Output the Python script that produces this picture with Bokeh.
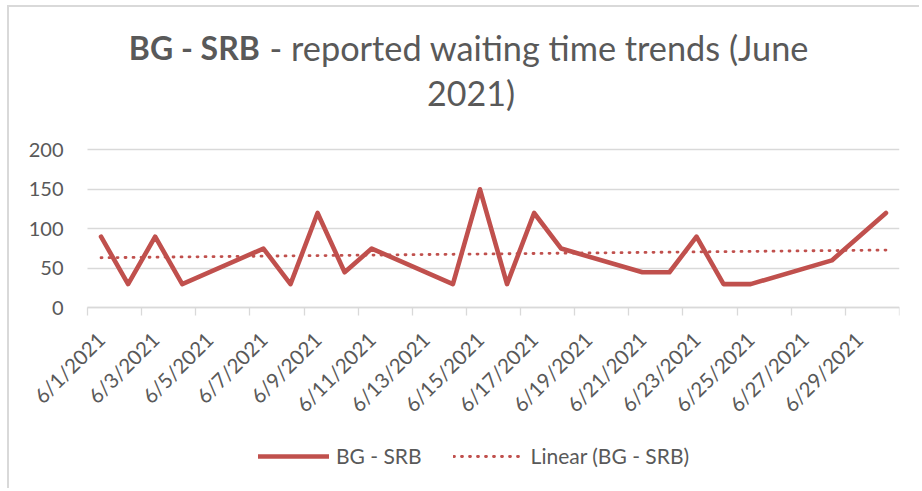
import numpy as np
from math import pi
from bokeh.plotting import figure
from bokeh.models import FixedTicker, Label, Legend, LegendItem, ColumnDataSource
from bokeh.embed import file_html
from bokeh.resources import INLINE

# data: day of June 2021 and reported waiting time
days = [1, 2, 3, 4, 7, 8, 9, 10, 11, 14, 15, 16, 17, 18, 21, 22, 23, 24, 25, 28, 29, 30]
values = [90, 30, 90, 30, 75, 30, 120, 45, 75, 30, 150, 30, 120, 75, 45, 45, 90, 30, 30, 60, 90, 120]
label_days = [1, 3, 5, 7, 9, 11, 13, 15, 17, 19, 21, 23, 25, 27, 29]
tick_labels = ["6/1/2021", "6/3/2021", "6/5/2021", "6/7/2021", "6/9/2021", "6/11/2021",
               "6/13/2021", "6/15/2021", "6/17/2021", "6/19/2021", "6/21/2021",
               "6/23/2021", "6/25/2021", "6/27/2021", "6/29/2021"]
y_ticks = [0, 50, 100, 150, 200]

RED = "#C0504D"
GREY = "#595959"
LIGHT = "#d9d9d9"
FONT = "Lato"

# layout: canvas spans page x 9..921, y 7..490; plot area page x 87..899, value 0 at y 307.3, 200 at 149.3
PX_PER_UNIT = 0.79
PX_PER_DAY = (899 - 87) / 30.0
y_top = (307.3 - 7) / PX_PER_UNIT
y_bot = (307.3 - 490) / PX_PER_UNIT
x_start = 0.5 - (87 - 9) / PX_PER_DAY

p = figure(width=912, height=483, x_range=(x_start, 30.5), y_range=(y_bot, y_top),
           output_backend="svg", toolbar_location=None,
           min_border_left=0, min_border_right=22, min_border_top=0, min_border_bottom=0)
p.outline_line_color = None
p.background_fill_color = "white"
p.border_fill_color = "white"
p.styles = {"margin-left": "7px", "margin-top": "5px",
            "border-left": "2px solid #d9d9d9", "border-top": "2px solid #d9d9d9"}

src = ColumnDataSource(dict(x=days, y=values))
main = p.line("x", "y", source=src, line_color=RED, line_width=4.6, line_join="round", line_cap="round")

slope, intercept = np.polyfit(days, values, 1)
tx = [days[0], days[-1]]
ty = [intercept + slope * d for d in tx]
trend = p.line(tx, ty, line_color=RED, line_width=2.8, line_dash="1 7", line_cap="round")

# y axis drawn at the left edge of the plot area
p.yaxis.fixed_location = 0.5
p.yaxis.ticker = FixedTicker(ticks=y_ticks)
p.yaxis.axis_line_color = None
p.yaxis.major_tick_line_color = None
p.yaxis.minor_tick_line_color = None
p.yaxis.major_tick_out = 0
p.yaxis.major_tick_in = 0
p.yaxis.major_label_standoff = 24
p.yaxis.major_label_text_font = FONT
p.yaxis.major_label_text_font_size = "20px"
p.yaxis.major_label_text_color = GREY

p.ygrid.grid_line_color = LIGHT
p.ygrid.grid_line_width = 1.3
p.ygrid.cross_bounds = (0.5, 30.5)
p.xgrid.grid_line_color = None

# x axis drawn at value 0
p.xaxis.fixed_location = 0
p.xaxis.bounds = (0.5, 30.5)
p.xaxis.ticker = FixedTicker(ticks=label_days, minor_ticks=[d - 0.5 for d in range(1, 32, 2)])
p.xaxis.major_label_overrides = {d: t for d, t in zip(label_days, tick_labels)}
p.xaxis.major_tick_out = 0
p.xaxis.major_tick_in = 0
p.xaxis.minor_tick_out = 8
p.xaxis.minor_tick_in = 0
p.xaxis.minor_tick_line_color = LIGHT
p.xaxis.minor_tick_line_width = 1.3
p.xaxis.axis_line_color = LIGHT
p.xaxis.axis_line_width = 1.3
p.xaxis.major_label_orientation = pi / 4
p.xaxis.major_label_standoff = 20
p.xaxis.major_label_text_font = FONT
p.xaxis.major_label_text_font_size = "20.5px"
p.xaxis.major_label_text_color = GREY

# title (screen units relative to the frame, y from bottom)
common = dict(x_units="screen", y_units="screen", text_font=FONT, text_color=GREY,
              text_baseline="alphabetic")
p.add_layout(Label(x=250.3, y=443.3, text="BG - SRB", text_align="right", text_font_style="bold",
                   text_font_size="32px", **common))
p.add_layout(Label(x=260, y=443.3, text="- reported waiting time trends (June", text_align="left",
                   text_font_size="34.3px", **common))
p.add_layout(Label(x=461.5, y=397.7, text="2021)", text_align="center", text_font_size="34px", **common))

legend = Legend(items=[LegendItem(label="BG - SRB", renderers=[main]),
                       LegendItem(label="Linear (BG - SRB)", renderers=[trend])],
                orientation="horizontal", location=(249, 22),
                glyph_width=71, glyph_height=20, label_standoff=7, spacing=31,
                padding=0, margin=0, border_line_color=None, background_fill_alpha=0,
                label_text_font=FONT, label_text_font_size="21px", label_text_color=GREY)
p.add_layout(legend, "center")

open("out.html", "w").write(file_html(p, INLINE))
